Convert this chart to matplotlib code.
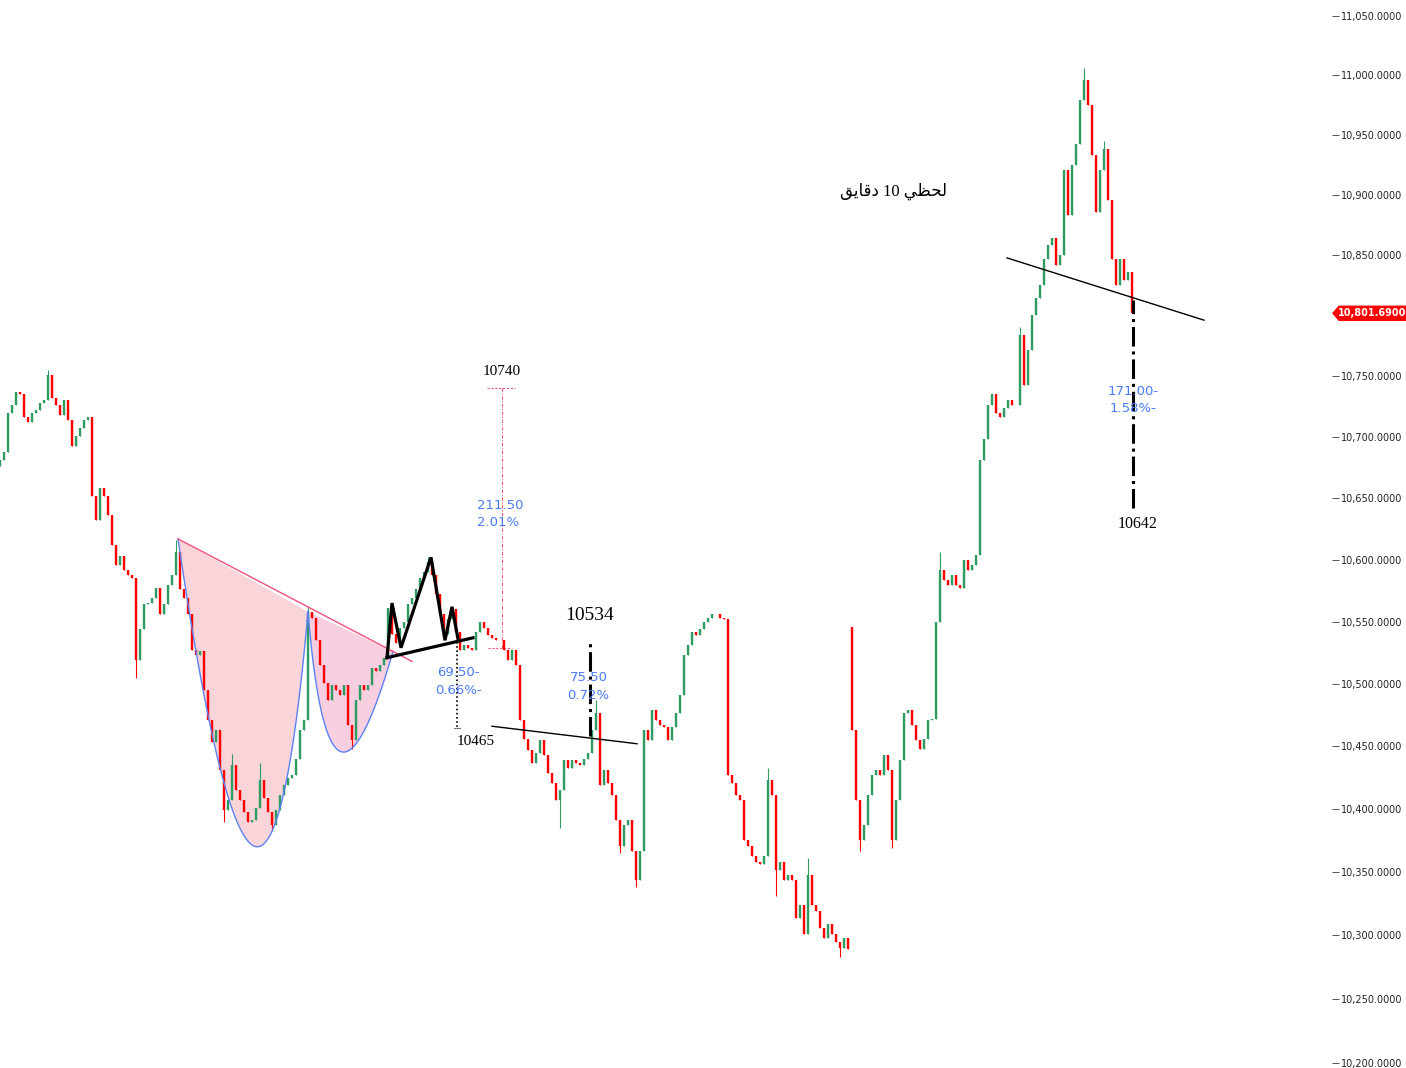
import numpy as np
import matplotlib
matplotlib.use("Agg")
import matplotlib.pyplot as plt
from matplotlib.ticker import FixedLocator, FuncFormatter, NullLocator
from matplotlib.patches import Polygon

# ---------------- data: 10-minute candles, closes ----------------
closes = [
    10681, 10688, 10720, 10726, 10737, 10735, 10716, 10712, 10720, 10722,
    10728, 10730, 10751, 10732, 10726, 10718, 10730, 10714, 10693, 10701,
    10707, 10714, 10716, 10652, 10632, 10658, 10652, 10636, 10612, 10596,
    10603, 10592, 10588, 10585, 10519, 10544, 10564, 10565, 10569, 10577,
    10556, 10564, 10580, 10588, 10606, 10576, 10569, 10556, 10527, 10523,
    10526, 10495, 10471, 10453, 10463, 10431, 10399, 10407, 10435, 10415,
    10407, 10398, 10390, 10391, 10401, 10423, 10409, 10398, 10387, 10399,
    10411, 10419, 10425, 10427, 10440, 10463, 10471, 10558, 10553, 10535,
    10515, 10501, 10487, 10499, 10495, 10491, 10499, 10467, 10455, 10487,
    10499, 10495, 10499, 10513, 10510, 10515, 10521, 10561, 10540, 10533,
    10545, 10550, 10564, 10569, 10576, 10585, 10590, 10598, 10588, 10572,
    10556, 10540, 10552, 10560, 10542, 10527, 10531, 10529, 10527, 10542,
    10550, 10545, 10539, 10537, 10535, 10535, 10527, 10519, 10527, 10515,
    10471, 10456, 10447, 10437, 10445, 10455, 10443, 10429, 10421, 10407,
    10415, 10439, 10433, 10439, 10437, 10435, 10440, 10445, 10463, 10477,
    10419, 10431, 10421, 10411, 10391, 10371, 10387, 10391, 10367, 10344,
    10367, 10463, 10455, 10479, 10471, 10467, 10465, 10455, 10465, 10477,
    10491, 10523, 10531, 10542, 10539, 10544, 10550, 10553, 10556, 10556,
    10553, 10552, 10427, 10421, 10411, 10407, 10375, 10371, 10363, 10358,
    10356, 10363, 10423, 10411, 10352, 10358, 10344, 10348, 10344, 10314,
    10324, 10301, 10348, 10324, 10319, 10306, 10298, 10309, 10301, 10295,
    10290, 10298, 10289, 10463, 10407, 10375, 10387, 10411, 10427, 10431,
    10427, 10443, 10431, 10375, 10407, 10439, 10477, 10479, 10467, 10455,
    10448, 10456, 10471, 10472, 10550, 10592, 10584, 10580, 10588, 10580,
    10577, 10600, 10592, 10596, 10604, 10681, 10698, 10726, 10735, 10720,
    10716, 10724, 10730, 10726, 10726, 10784, 10743, 10771, 10800, 10814,
    10825, 10847, 10858, 10864, 10842, 10850, 10921, 10883, 10925, 10942,
    10979, 10996, 10975, 10933, 10886, 10921, 10938, 10896, 10847, 10825,
    10847, 10829, 10836, 10801.69,
]
first_open = 10676
gap_opens = {213: 10546}          # session open that gapped away from prior close
wick_highs = {12: 10755, 44: 10616, 58: 10444, 65: 10437, 77: 10562, 107: 10602,
              149: 10487, 192: 10433, 202: 10361, 235: 10606, 255: 10790,
              271: 11006, 276: 10945}
wick_lows = {34: 10505, 56: 10390, 68: 10383, 88: 10448, 140: 10385, 155: 10365,
             159: 10338, 194: 10331, 210: 10283, 215: 10367, 223: 10369}

# 10,800 sits under the last-price tag, so it is not labelled
price_ticks = [10200, 10250, 10300, 10350, 10400, 10450, 10500, 10550, 10600,
               10650, 10700, 10750, 10850, 10900, 10950, 11000, 11050]

# drawings (bar index, price)
trend_line = [(44.5, 10617), (103.0, 10518)]
cup_1 = [(44.5, 10617), (63.25, 10371), (77.0, 10558)]      # start, bottom, end
cup_2 = [(77.0, 10558), (85.0, 10446), (98.25, 10526)]
zigzag_x = [96.75, 98.0, 100.25, 107.75, 111.25, 113.0, 114.5]
zigzag_p = [10521, 10565, 10529, 10602, 10535, 10562, 10536]
neck_1 = [(96.75, 10521), (118.25, 10537)]
neck_2 = [(123.0, 10466), (159.25, 10452)]
neck_3 = [(251.75, 10847.5), (301.0, 10796)]

UP, DOWN = "#2e9b63", "#ff0000"
BLUE = "#4a7cf7"

# ---------------- build OHLC ----------------
c = np.array(closes, dtype=float)
o = np.concatenate([[first_open], c[:-1]])
for k, v in gap_opens.items():
    o[k] = v
hi = np.maximum(o, c)
lo = np.minimum(o, c)
for k, v in wick_highs.items():
    hi[k] = v
for k, v in wick_lows.items():
    lo[k] = v
x = np.arange(len(c))
cols = [UP if cc >= oo else DOWN for oo, cc in zip(o, c)]

fig = plt.figure(figsize=(14.06, 10.68), dpi=100)
ax = fig.add_axes([0, 0, 1332 / 1406, 1])
ax.set_yscale("log")

ax.vlines(x, lo, hi, colors=cols, linewidth=0.8, zorder=3)
ax.vlines(x, np.minimum(o, c), np.maximum(o, c), colors=cols, linewidth=1.7, zorder=3)


def bezier(pts, n=120):
    # quadratic curve through start, mid (t=0.5) and end, built in pixel-like (x, log p) space
    p0 = np.array([pts[0][0], np.log(pts[0][1])])
    pm = np.array([pts[1][0], np.log(pts[1][1])])
    p2 = np.array([pts[2][0], np.log(pts[2][1])])
    cc = 2 * pm - 0.5 * (p0 + p2)
    t = np.linspace(0, 1, n)[:, None]
    b = (1 - t) ** 2 * p0 + 2 * (1 - t) * t * cc + t ** 2 * p2
    return b[:, 0], np.exp(b[:, 1])


for cup, fc in [(cup_1, "#f9d5da"), (cup_2, "#f7cfe0")]:
    bx, by = bezier(cup)
    ax.fill(bx, by, facecolor=fc, edgecolor="none", zorder=1)
    ax.plot(bx, by, color="#5b80f2", lw=1.0, zorder=4)

ax.plot(*zip(*trend_line), color="#f0507a", lw=1.0, zorder=4)
ax.plot(zigzag_x, zigzag_p, color="black", lw=2.3, zorder=5, solid_joinstyle="miter")
ax.plot(*zip(*neck_1), color="black", lw=2.3, zorder=5)
ax.plot(*zip(*neck_2), color="black", lw=1.0, zorder=5)
ax.plot(*zip(*neck_3), color="black", lw=1.0, zorder=5)

# measure 1: 69.50 down
ax.plot([114.25, 114.25], [10534, 10464.5], color="black", lw=1.2, ls=(0, (1, 1.5)), zorder=5)
ax.plot([113.6, 114.9], [10464.5, 10464.5], color="#777777", lw=0.8, zorder=5)
ax.text(114.5, 10509, "69.50-", color=BLUE, fontsize=9.5, ha="center", va="center", zorder=6)
ax.text(114.5, 10495, "0.66%-", color=BLUE, fontsize=9.5, ha="center", va="center", zorder=6)
ax.text(119.0, 10454, "10465", family="Liberation Serif", fontsize=11, ha="center", va="center")

# measure 2: 211.50 up target
PINK = "#e8577a"
ax.plot([125.5, 125.5], [10528.5, 10740], color=PINK, lw=0.8, ls=(0, (3, 1.5, 1, 1.5)), zorder=2)
ax.plot([121.75, 128.75], [10740, 10740], color=PINK, lw=0.8, ls=(0, (2, 1.5)), zorder=2)
ax.plot([122.0, 128.0], [10528.5, 10528.5], color=PINK, lw=0.8, ls=(0, (2, 1.5)), zorder=2)
ax.text(125.0, 10644, "211.50", color=BLUE, fontsize=9.5, ha="center", va="center", zorder=6)
ax.text(124.6, 10630, "2.01%", color=BLUE, fontsize=9.5, ha="center", va="center", zorder=6)
ax.text(125.5, 10754, "10740", family="Liberation Serif", fontsize=11, ha="center", va="center")

# measure 3: 75.50
ax.plot([147.5, 147.5], [10458.5, 10534], color="black", lw=2.2, ls="-.", zorder=5)
ax.text(147.3, 10505, "75.50", color=BLUE, fontsize=9.5, ha="center", va="center", zorder=6)
ax.text(147.0, 10491, "0.72%", color=BLUE, fontsize=9.5, ha="center", va="center", zorder=6)
ax.text(147.5, 10555, "10534", family="Liberation Serif", fontsize=14, ha="center", va="center")

# measure 4: 171.00 down
ax.plot([283.25, 283.25], [10642, 10813], color="black", lw=2.2, ls="-.", zorder=5)
ax.text(283.25, 10737, "171.00-", color=BLUE, fontsize=9.5, ha="center", va="center", zorder=6)
ax.text(283.25, 10723, "1.58%-", color=BLUE, fontsize=9.5, ha="center", va="center", zorder=6)
ax.text(284.5, 10629, "10642", family="Liberation Serif", fontsize=11.5, ha="center", va="center")

# title (Arabic, pre-shaped presentation forms, visual order)
title = "\uFED6\uFEF3\uFE8E\uFED7\uFEA9 10 \uFEF2\uFEC8\uFEA4\uFEDF"
ax.text(223.25, 10902.5, title, family=["Liberation Serif", "DejaVu Sans"], fontsize=12,
        ha="center", va="center")

# axes
ax.set_xlim(0, 333)
ax.set_ylim(10196.1, 11063.5)
for s in ax.spines.values():
    s.set_visible(False)
ax.xaxis.set_major_locator(NullLocator())
ax.xaxis.set_minor_locator(NullLocator())
ax.yaxis.tick_right()
ax.yaxis.set_major_locator(FixedLocator(price_ticks))
ax.yaxis.set_minor_locator(NullLocator())
ax.yaxis.set_major_formatter(FuncFormatter(lambda v, p: f"{v:,.4f}"))
ax.tick_params(axis="y", length=5, width=0.7, color="#555555", pad=1.5,
               labelsize=7, labelcolor="#222222")

# last price tag
fig.canvas.draw()
_, ty = ax.transData.transform((0, closes[-1]))
tag = Polygon([(1333, ty), (1339, ty + 7), (1406, ty + 7), (1406, ty - 7), (1339, ty - 7)],
              closed=True, facecolor="#ff0000", edgecolor="#ff0000", transform=None)
fig.patches.append(tag)
fig.text(1372 / 1406, ty / 1068, f"{closes[-1]:,.4f}", color="white", fontsize=7,
         fontweight="bold", ha="center", va="center")

fig.savefig("out.png", dpi=100)
